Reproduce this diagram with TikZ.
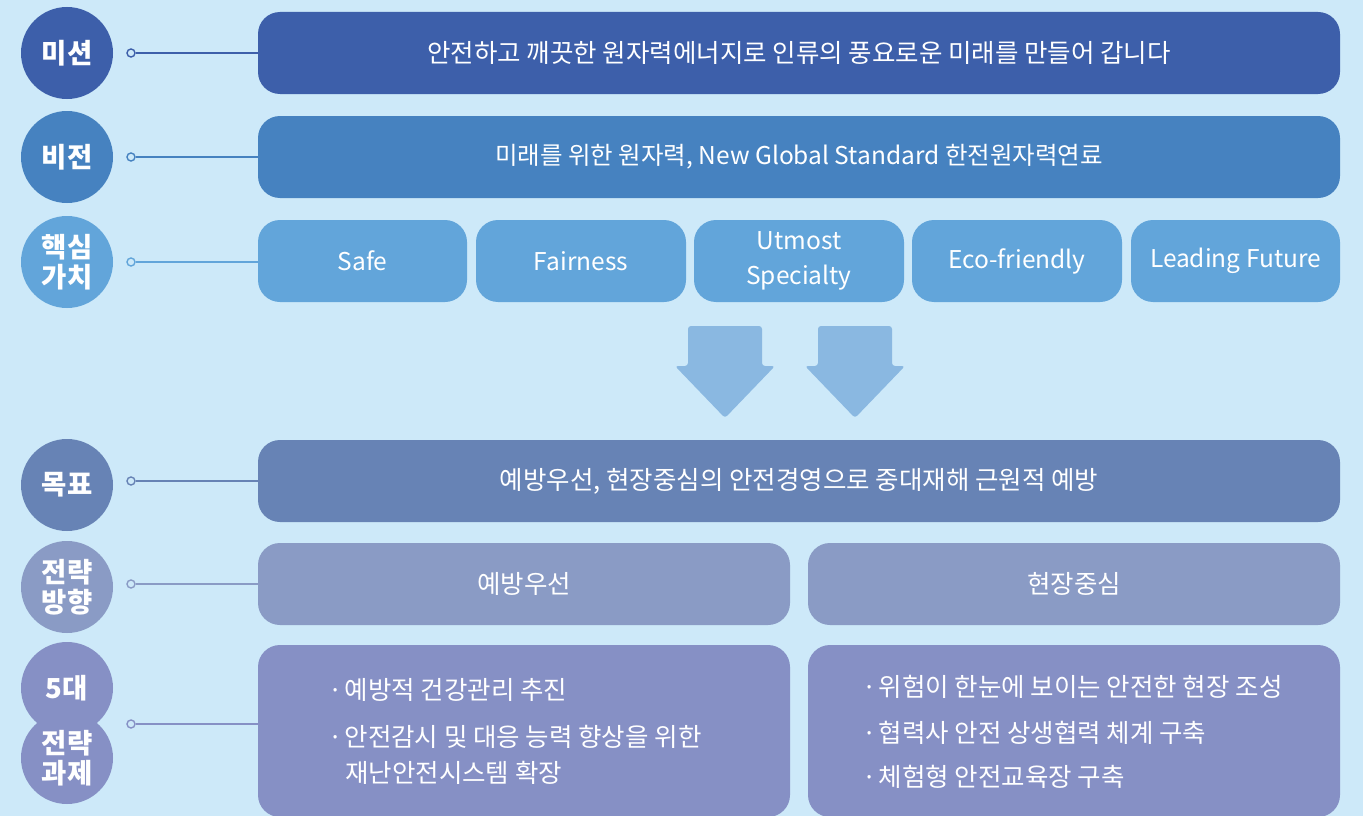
\documentclass[tikz,border=0pt]{standalone}
\usepackage{fontspec}
\setmainfont{Noto Sans CJK KR}
\definecolor{bg}{HTML}{CDE9F9}
\definecolor{cmis}{HTML}{3D5FAA}
\definecolor{cvis}{HTML}{4682C0}
\definecolor{ccore}{HTML}{62A5DA}
\definecolor{carrow}{HTML}{8AB8E1}
\definecolor{cgoal}{HTML}{6783B5}
\definecolor{cdir}{HTML}{8A9BC5}
\definecolor{ctask}{HTML}{8690C5}
\newcommand{\bul}{·\hspace{0.08em}}
\tikzset{
  x=1pt, y=-1pt,
  lbl/.style={circle, minimum size=92pt, inner sep=0pt, text=white, align=center,
    font=\fontsize{27.5}{30}\selectfont\bfseries},
  box/.style={rounded corners=22pt, text=white, inner sep=0pt, align=center,
    minimum height=82pt, font=\fontsize{25.5}{34}\selectfont},
  corebox/.style={box, fill=ccore, font=\fontsize{24.5}{35}\selectfont},
  pin/.style={circle, draw, fill=bg, minimum size=8pt, inner sep=0pt, line width=1.4pt},
  link/.style={line width=1.6pt},
  item/.style={anchor=west, text=white, inner sep=0pt, font=\fontsize{25.5}{30}\selectfont},
  bigarrow/.style={fill=carrow, rounded corners=3pt}
}
\begin{document}
\begin{tikzpicture}
\useasboundingbox (0,0) rectangle (1363,816);
\fill[bg] (0,0) rectangle (1363,816);

% circles
\node[lbl, fill=cmis] (cm) at (67,53) {미션};
\node[lbl, fill=cvis] (cv) at (67,157) {비전};
\node[lbl, fill=ccore] (cc) at (67,262) {핵심\\가치};
\node[lbl, fill=cgoal] (cg) at (67,485) {목표};
\node[lbl, fill=cdir] (cd) at (67,587) {전략\\방향};
\node[lbl, fill=ctask] (ct1) at (67,688) {5대};
\node[lbl, fill=ctask] (ct2) at (67,758) {전략\\과제};

% boxes
\node[box, fill=cmis, minimum width=1082pt] (bm) at (799,53) {안전하고 깨끗한 원자력에너지로 인류의 풍요로운 미래를 만들어 갑니다};
\node[box, fill=cvis, minimum width=1082pt, font=\fontsize{24.5}{34}\selectfont] (bv) at (799,157) {미래를 위한 원자력, New Global Standard 한전원자력연료};
\node[corebox, minimum width=209pt] (k1) at (362.5,261) {Safe};
\node[corebox, minimum width=210pt] (k2) at (581,261) {Fairness};
\node[corebox, minimum width=210pt] (k3) at (799,261) {Utmost\\Specialty};
\node[corebox, minimum width=210pt] (k4) at (1017,261) {Eco-friendly};
\node[corebox, minimum width=209pt] (k5) at (1235.5,261) {Leading Future};

\node[box, fill=cgoal, minimum width=1082pt] (bg1) at (799,481) {예방우선, 현장중심의 안전경영으로 중대재해 근원적 예방};
\node[box, fill=cdir, minimum width=532pt] (bd1) at (524,584) {예방우선};
\node[box, fill=cdir, minimum width=532pt] (bd2) at (1074,584) {현장중심};
\node[box, fill=ctask, minimum width=532pt, minimum height=172pt] (bt1) at (524,731) {};
\node[box, fill=ctask, minimum width=532pt, minimum height=172pt] (bt2) at (1074,731) {};

% task items
\node[item] (t1) at (328,690) {\bul 예방적 건강관리 추진};
\node[item] (t2) at (328,737) {\bul 안전감시 및 대응 능력 향상을 위한};
\node[item] (t3) at (345,773) {재난안전시스템 확장};
\node[item] (t4) at (862,687) {\bul 위험이 한눈에 보이는 안전한 현장 조성};
\node[item] (t5) at (862,733) {\bul 협력사 안전 상생협력 체계 구축};
\node[item] (t6) at (862,777) {\bul 체험형 안전교육장 구축};

% arrows
\fill[bigarrow] (688,326) -- (762,326) -- (762,366) -- (775,366) -- (725,418) -- (675,366) -- (688,366) -- cycle;
\fill[bigarrow] (818,326) -- (892,326) -- (892,366) -- (905,366) -- (855,418) -- (805,366) -- (818,366) -- cycle;

% pins and links
\node[pin, draw=cmis] (pm) at (131,53) {};
\node[pin, draw=cvis] (pv) at (131,157) {};
\node[pin, draw=ccore] (pc) at (131,262) {};
\node[pin, draw=cgoal] (pg) at (131,481) {};
\node[pin, draw=cdir] (pd) at (131,584) {};
\node[pin, draw=ctask] (pt) at (131,724) {};
\draw[link, cmis] (pm.east) -- (pm.east -| bm.west);
\draw[link, cvis] (pv.east) -- (pv.east -| bv.west);
\draw[link, ccore] (pc.east) -- (pc.east -| k1.west);
\draw[link, cgoal] (pg.east) -- (pg.east -| bg1.west);
\draw[link, cdir] (pd.east) -- (pd.east -| bd1.west);
\draw[link, ctask] (pt.east) -- (pt.east -| bt1.west);
\end{tikzpicture}
\end{document}
